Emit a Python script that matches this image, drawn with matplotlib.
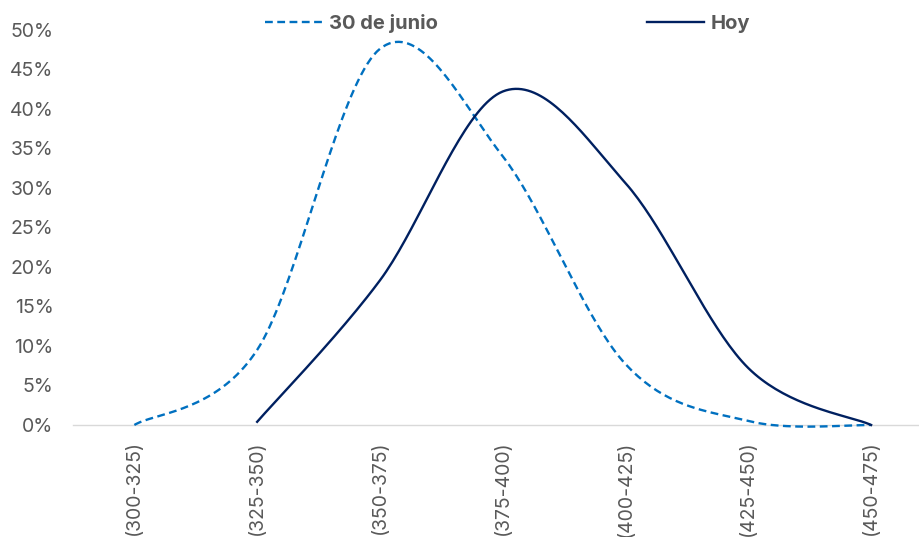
import numpy as np
import matplotlib
matplotlib.use("Agg")
import matplotlib.pyplot as plt
from matplotlib.lines import Line2D

plt.rcParams['font.family'] = ['Inter', 'DejaVu Sans']

categories = ['(300-325)', '(325-350)', '(350-375)', '(375-400)', '(400-425)', '(425-450)', '(450-475)']
junio = [0.0, 0.095, 0.476, 0.34, 0.077, 0.005, 0.0]
hoy = [np.nan, 0.004, 0.183, 0.422, 0.306, 0.072, 0.0]

GREY = '#595959'
BLUE = '#0070C0'
NAVY = '#002060'


def excel_smooth(xs, ys, n=40):
    # bezier segments with control points like Excel's smoothed line
    xs = np.asarray(xs, float)
    ys = np.asarray(ys, float)
    px, py = [], []
    m = len(xs)
    for i in range(m - 1):
        i0 = max(i - 1, 0)
        i3 = min(i + 2, m - 1)
        p0 = np.array([xs[i], ys[i]])
        p1 = np.array([xs[i + 1], ys[i + 1]])
        c1 = p0 + (p1 - np.array([xs[i0], ys[i0]])) / 6
        c2 = p1 - (np.array([xs[i3], ys[i3]]) - p0) / 6
        t = np.linspace(0, 1, n)[:, None]
        pts = ((1 - t) ** 3) * p0 + 3 * ((1 - t) ** 2) * t * c1 + 3 * (1 - t) * t ** 2 * c2 + t ** 3 * p1
        if i > 0:
            pts = pts[1:]
        px.extend(pts[:, 0])
        py.extend(pts[:, 1])
    return np.array(px), np.array(py)


fig = plt.figure(figsize=(9.2, 5.37), dpi=100)
ax = fig.add_axes([0.0793, 0.2086, 0.9343, 0.7358])

x = np.arange(len(categories))
jx, jy = excel_smooth(x, junio)
ax.plot(jx, jy, color=BLUE, lw=1.7, dashes=(3.3, 1.9), clip_on=False, zorder=3)

hy = np.array(hoy)
ok = ~np.isnan(hy)
hx2, hy2 = excel_smooth(x[ok], hy[ok])
ax.plot(hx2, hy2, color=NAVY, lw=1.7, clip_on=False, zorder=3)

ax.set_xlim(-0.5, 6.5)
ax.set_ylim(0, 0.5)
ax.set_yticks(np.arange(0, 0.51, 0.05))
ax.set_yticklabels([f'{int(round(v * 100))}%' for v in np.arange(0, 0.51, 0.05)])
ax.set_xticks(x)
ax.set_xticklabels(categories, rotation=90)
ax.tick_params(axis='y', length=0, pad=14, labelsize=14, labelcolor=GREY)
ax.tick_params(axis='x', length=0, pad=11, labelsize=14, labelcolor=GREY)

for s in ['top', 'right', 'left']:
    ax.spines[s].set_visible(False)
ax.spines['bottom'].set_color('#D9D9D9')
ax.spines['bottom'].set_linewidth(1)

handles = [Line2D([], [], color=BLUE, lw=1.7, dashes=(3.3, 1.9)),
           Line2D([], [], color=NAVY, lw=1.7)]
fig.legend(handles, ['30 de junio', 'Hoy'], loc='center', bbox_to_anchor=(0.5516, 0.957),
           ncol=2, frameon=False, handlelength=2.83, handletextpad=0.35, columnspacing=10.4,
           prop={'size': 14.5, 'weight': 'bold'}, labelcolor=GREY)

fig.savefig('out.png', dpi=100)
